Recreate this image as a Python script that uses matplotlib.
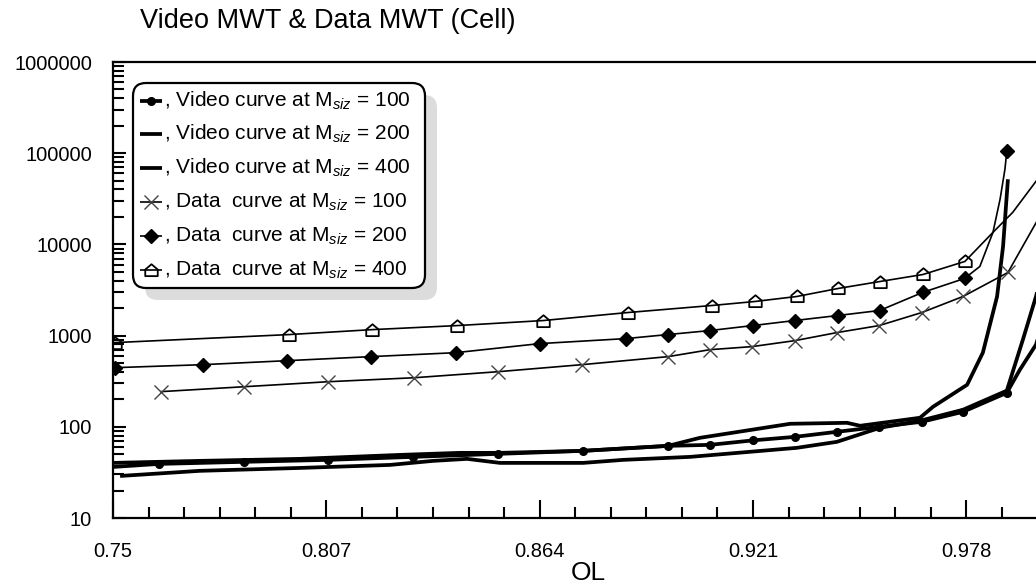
import matplotlib
matplotlib.use("Agg")
import matplotlib.pyplot as plt
from matplotlib.patches import FancyBboxPatch
from matplotlib.lines import Line2D
from matplotlib.path import Path
from matplotlib.transforms import Affine2D
from matplotlib.ticker import FixedLocator, LogLocator, NullFormatter

plt.rcParams['font.family'] = ['Liberation Sans', 'DejaVu Sans']
plt.rcParams['mathtext.fontset'] = 'custom'
plt.rcParams['mathtext.rm'] = 'Liberation Sans'
plt.rcParams['mathtext.it'] = 'Liberation Sans:italic'

# ---------------- data ----------------
title = "Video MWT & Data MWT (Cell)"
x_label = "OL"
x_ticks = [0.75, 0.807, 0.864, 0.921, 0.978]
x_tick_labels = ["0.75", "0.807", "0.864", "0.921", "0.978"]
y_ticks = [10, 100, 1000, 10000, 100000, 1000000]
y_tick_labels = ["10", "100", "1000", "10000", "100000", "1000000"]

video100_x = [0.75, 0.7623, 0.785, 0.8074, 0.8302, 0.8529, 0.8756, 0.8983, 0.9095, 0.921,
              0.9322, 0.9434, 0.9547, 0.9661, 0.9771, 0.9888, 0.9923, 0.9966, 1.0003]
video100_y = [36.3, 39.2, 41.3, 43.4, 46.8, 50.5, 54.5, 61.8, 63.4, 71.0,
              77.6, 88.1, 100, 113.5, 146, 236, 423, 796, 2500]

video200_x = [0.75, 0.7732, 0.8, 0.8267, 0.8427, 0.8534, 0.8756, 0.8983, 0.9068, 0.9309,
              0.9461, 0.9496, 0.9656, 0.9691, 0.9782, 0.9824, 0.9862, 0.9878, 0.9891]
video200_y = [40.2, 42.3, 44.5, 49.2, 51.8, 51.8, 54.5, 61.8, 75.7, 107.9,
              110.6, 102.6, 125.6, 165.9, 289, 650, 2685, 9510, 51760]

video400_x = [0.7519, 0.7732, 0.8, 0.824, 0.8355, 0.8446, 0.8534, 0.8756, 0.8863, 0.9042,
              0.9327, 0.9434, 0.9549, 0.9656, 0.9771, 0.9888, 0.9931, 0.9966, 1.0003]
video400_y = [28.9, 32.9, 35.4, 38.2, 42.3, 44.5, 40.2, 40.2, 43.4, 46.8,
              58.8, 68.4, 97.5, 116.4, 153.8, 249, 904, 2685, 11350]

data100_x = [0.7628, 0.785, 0.8074, 0.8304, 0.8529, 0.8753, 0.8983, 0.9095, 0.9207, 0.9322,
             0.9434, 0.9547, 0.9661, 0.9771, 0.9891, 1.0003]
data100_y = [243, 275, 312, 345, 402, 480, 588, 701, 757, 881,
             1079, 1288, 1791, 2685, 4920, 32000]

data200_x = [0.7505, 0.774, 0.7965, 0.8189, 0.8416, 0.864, 0.887, 0.8982, 0.9094, 0.9209,
             0.9321, 0.9436, 0.9548, 0.9663, 0.9775, 0.9816, 0.9851, 0.987, 0.9883, 0.9888]
data200_y = [445, 480, 531, 588, 650, 817, 927, 1026, 1135, 1288,
             1462, 1660, 1884, 2972, 4230, 5730, 13550, 31260, 66700, 105000]

data400_x = [0.7505, 0.797, 0.8193, 0.842, 0.8649, 0.8876, 0.9100, 0.9215, 0.9327, 0.9437,
             0.9549, 0.9664, 0.9776, 0.9851, 0.9904, 0.9966, 1.0003]
data400_y = [838, 1026, 1163, 1288, 1462, 1791, 2138, 2366, 2685, 3285,
             3918, 4677, 6503, 13550, 22500, 49200, 79600]

legend_labels = [
    ", Video curve at M$_{siz}$ = 100",
    ", Video curve at M$_{siz}$ = 200",
    ", Video curve at M$_{siz}$ = 400",
    ", Data  curve at M$_{siz}$ = 100",
    ", Data  curve at M$_{siz}$ = 200",
    ", Data  curve at M$_{siz}$ = 400",
]

# ---------------- figure ----------------
W, H = 1036, 586
fig = plt.figure(figsize=(W / 100, H / 100), dpi=100)
px = Affine2D().scale(1 / W, -1 / H).translate(0, 1) + fig.transFigure

ax = fig.add_axes([113 / W, 1 - 518 / H, 1 - 113 / W, (518 - 62) / H])
ax.set_yscale('log')
ax.set_xlim(0.75, 0.9966)
ax.set_ylim(10, 1e6)

house = Path([(-1, -0.9), (1, -0.9), (1, 0.15), (0, 1), (-1, 0.15), (-1, -0.9)],
             [Path.MOVETO, Path.LINETO, Path.LINETO, Path.LINETO, Path.LINETO, Path.CLOSEPOLY])

vlw = 2.7
dlw = 1.2
ax.plot(video400_x, video400_y, color='black', lw=vlw, solid_capstyle='butt', zorder=3)
ax.plot(video200_x, video200_y, color='black', lw=vlw, solid_capstyle='butt', zorder=3)
ax.plot(video100_x, video100_y, color='black', lw=vlw, marker='o', ms=5.5,
        markevery=list(range(1, 16)), zorder=4)

ax.plot(data100_x, data100_y, color='black', lw=dlw, marker='x', ms=10, mew=1.0,
        mec='#444444', markevery=list(range(0, 15)), zorder=3)
ax.plot(data200_x, data200_y, color='black', lw=dlw, marker='D', ms=7,
        markevery=list(range(0, 15)) + [19], zorder=3)
ax.plot(data400_x, data400_y, color='black', lw=dlw, marker=house, ms=9, mew=1.3,
        mfc='none', markevery=list(range(0, 13)), zorder=3)

# axes styling
for s in ['left', 'bottom', 'top']:
    ax.spines[s].set_linewidth(1.6)
ax.spines['right'].set_visible(False)

ax.xaxis.set_major_locator(FixedLocator(x_ticks))
ax.set_xticklabels(x_tick_labels)
minor_x = [0.75 + 0.0095 * k for k in range(1, 26) if k % 6 != 0]
ax.xaxis.set_minor_locator(FixedLocator(minor_x))
ax.xaxis.set_minor_formatter(NullFormatter())

ax.yaxis.set_major_locator(FixedLocator(y_ticks))
ax.set_yticklabels(y_tick_labels)
ax.yaxis.set_minor_locator(LogLocator(base=10, subs=[2, 3, 4, 5, 6, 7, 8, 9]))
ax.yaxis.set_minor_formatter(NullFormatter())

ax.tick_params(axis='x', which='major', direction='in', length=13, width=1.5,
               labelsize=14.5, pad=17, top=False)
ax.tick_params(axis='x', which='minor', direction='in', length=8, width=1.5, top=False)
ax.tick_params(axis='y', which='major', direction='in', length=9, width=1.5,
               labelsize=14.5, pad=15, right=False)
ax.tick_params(axis='y', which='minor', direction='in', length=8, width=1.5, right=False)

# title & axis label
fig.text(140, 21, title, transform=px, fontsize=19.5, ha='left', va='center')
fig.text(588, 573, x_label, transform=px, fontsize=19, ha='center', va='center')

# legend (manual, rounded box with shadow)
shadow = FancyBboxPatch((145, 95), 292, 205, boxstyle='round,pad=0,rounding_size=13',
                        transform=px, facecolor='#dcdcdc', edgecolor='none', zorder=5)
box = FancyBboxPatch((133, 83), 292, 205, boxstyle='round,pad=0,rounding_size=13',
                     transform=px, facecolor='white', edgecolor='black', lw=1.6, zorder=6)
fig.add_artist(shadow)
fig.add_artist(box)

rows = [101, 134, 168, 202, 236, 270]
handles = [
    dict(lw=vlw, marker='o', ms=5.5),
    dict(lw=vlw),
    dict(lw=vlw),
    dict(lw=dlw, marker='x', ms=10, mew=1.0, mec='#444444'),
    dict(lw=dlw, marker='D', ms=7),
    dict(lw=dlw, marker=house, ms=9, mew=1.3, mfc='none'),
]
for yy, lab, hk in zip(rows, legend_labels, handles):
    mk = hk.pop('marker', None)
    fig.add_artist(Line2D([140, 162], [yy, yy], transform=px, color='black',
                          solid_capstyle='butt', zorder=7, lw=hk['lw']))
    if mk is not None:
        extra = {k: v for k, v in hk.items() if k != 'lw'}
        fig.add_artist(Line2D([151], [yy], transform=px, color='black', marker=mk,
                              linestyle='none', zorder=8, **extra))
    fig.text(164, yy, lab, transform=px, fontsize=15, ha='left', va='center', zorder=9)

fig.savefig("out.png", dpi=100)
